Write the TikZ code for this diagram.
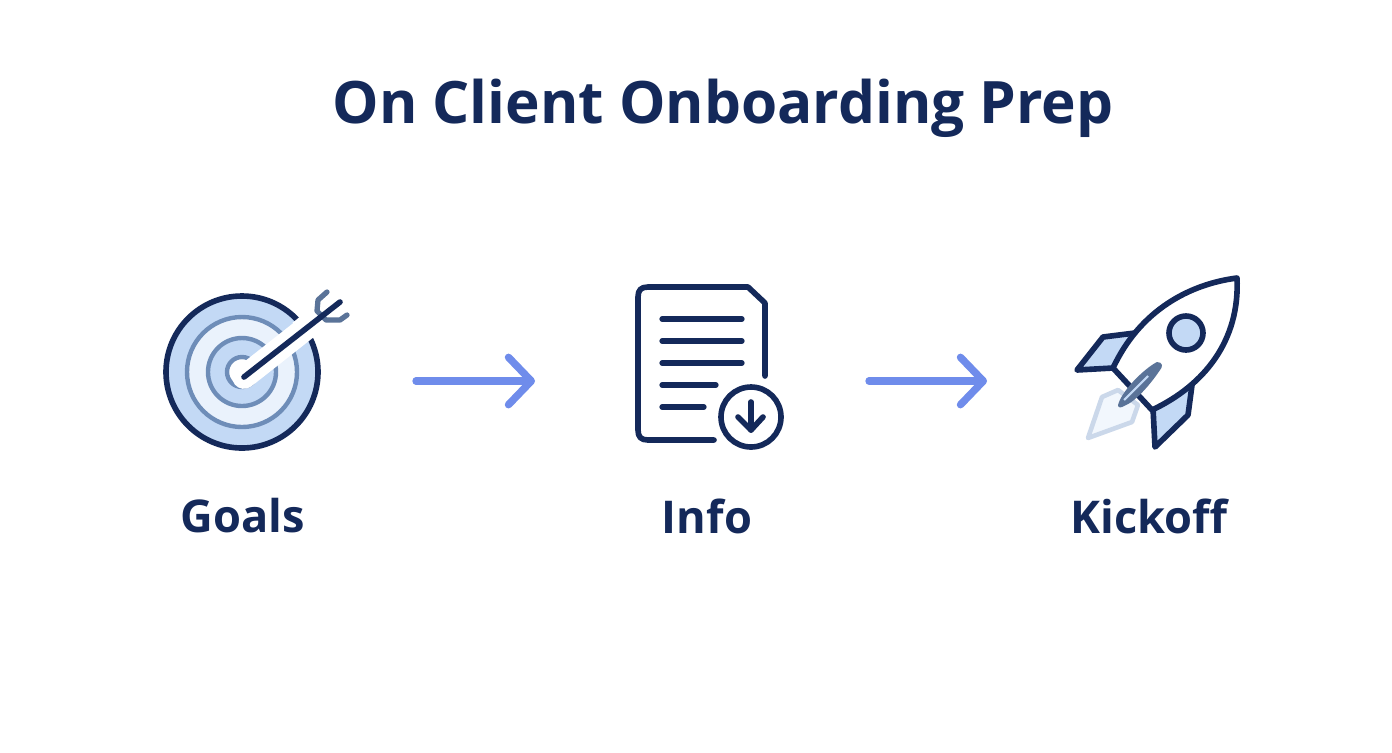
\documentclass[tikz,border=0pt]{standalone}
\usepackage{fontspec}
\setmainfont{Open Sans}
\usetikzlibrary{arrows.meta}
\definecolor{navy}{HTML}{14295A}
\definecolor{steel}{HTML}{6E8DB8}
\definecolor{slate}{HTML}{5A7398}
\definecolor{paleblue}{HTML}{C3D9F5}
\definecolor{iceblue}{HTML}{EAF2FC}
\definecolor{flamegrey}{HTML}{CBD8EA}
\definecolor{flowblue}{HTML}{6F8CEB}
\tikzstyle{outline}=[draw=navy, line width=3.2pt, line join=round, line cap=round]
\tikzstyle{ring}=[draw=steel, line width=2.5pt]
\tikzstyle{textline}=[navy, line width=3pt, line cap=round]
\tikzstyle{flow}=[flowblue, line width=4.2pt, line cap=round, -{Straight Barb[round, length=13pt, width=27pt]}]
\tikzstyle{title}=[navy, font=\fontsize{33.3}{40}\selectfont\bfseries]
\tikzstyle{label}=[navy, font=\fontsize{25.7}{30}\selectfont\bfseries]

\begin{document}
\begin{tikzpicture}[x=0.02cm, y=-0.02cm]
          \useasboundingbox[fill=white] (0, 0) rectangle (1392, 752);

          \node[title] (heading) at (723, 108) {On Client Onboarding Prep};
          \node[label] (goals) at (243, 516) {Goals};
          \node[label] (info) at (707, 516) {Info};
          \node[label] (kickoff) at (1149, 516) {Kickoff};

          % target
          \fill[paleblue] (242, 372) circle [radius=76];
          \draw[outline] (242, 372) circle [radius=76];
          \draw[ring, fill=iceblue] (242, 372) circle [radius=55];
          \draw[ring, fill=paleblue] (242, 372) circle [radius=34];
          \draw[ring, fill=white] (242, 372) circle [radius=15];
          \draw[white, line width=13.5pt, line cap=round] (244, 377) -- (310, 325);
          \draw[white, line width=13.5pt] (300, 332) -- (322, 314);
          \draw[slate, line width=3pt, line cap=round, line join=round]
            (317, 311) -- (318, 300) -- (327, 292)
            (317, 311) -- (326, 320) -- (340, 320) -- (347, 315);
          \draw[navy, line width=3.2pt, line cap=round] (244, 377) -- (340, 302);

          % document
          \draw[outline] (765, 376) -- (765, 303) -- (748, 287) -- (648, 287)
            .. controls (641, 287) and (638, 290) .. (638, 297)
            -- (638, 430)
            .. controls (638, 437) and (641, 440) .. (648, 440)
            -- (714, 440);
          \foreach \rowy/\rowend in {319/742, 341/742, 363/742, 385/716, 407/704} {
            \draw[textline] (662, \rowy) -- (\rowend, \rowy);
          }
          \draw[outline] (751, 417) circle [radius=30];
          \draw[outline] (751, 402) -- (751, 430);
          \draw[outline] (738, 417) -- (751, 430) -- (763, 417);

          % rocket
          \draw[draw=flamegrey, fill=iceblue!60, line width=2.6pt, line join=round]
            (1102, 397) -- (1118, 390) -- (1138, 405) -- (1132, 422) -- (1088, 438) -- cycle;
          \draw[outline, fill=paleblue] (1135, 333) -- (1103, 337) -- (1077, 370) -- (1113, 368) -- cycle;
          \draw[outline, fill=paleblue] (1192, 385) -- (1188, 415) -- (1155, 447) -- (1153, 408) -- cycle;
          \draw[outline, fill=white] (1237, 278)
            .. controls (1190, 284) and (1140, 310) .. (1113, 368)
            -- (1152, 410)
            .. controls (1205, 385) and (1240, 340) .. cycle;
          \draw[outline, fill=paleblue] (1186, 333) circle [radius=17];
          \fill[slate] (1118, 405)
            .. controls (1122, 390) and (1145, 368) .. (1157, 362)
            .. controls (1163, 362) and (1163, 367) .. (1160, 370)
            .. controls (1150, 385) and (1135, 402) .. (1124, 406)
            .. controls (1121, 408) and (1118, 408) .. cycle;
          \draw[paleblue, line width=1.2pt] (1124, 400) -- (1148, 376);

          % flow arrows
          \coordinate (goalsout) at (416, 381);
          \coordinate (infoin) at (535, 381);
          \coordinate (infoout) at (869, 381);
          \coordinate (kickoffin) at (987, 381);
          \draw[flow] (goalsout) -- (infoin);
          \draw[flow] (infoout) -- (kickoffin);
        \end{tikzpicture}
\end{document}
